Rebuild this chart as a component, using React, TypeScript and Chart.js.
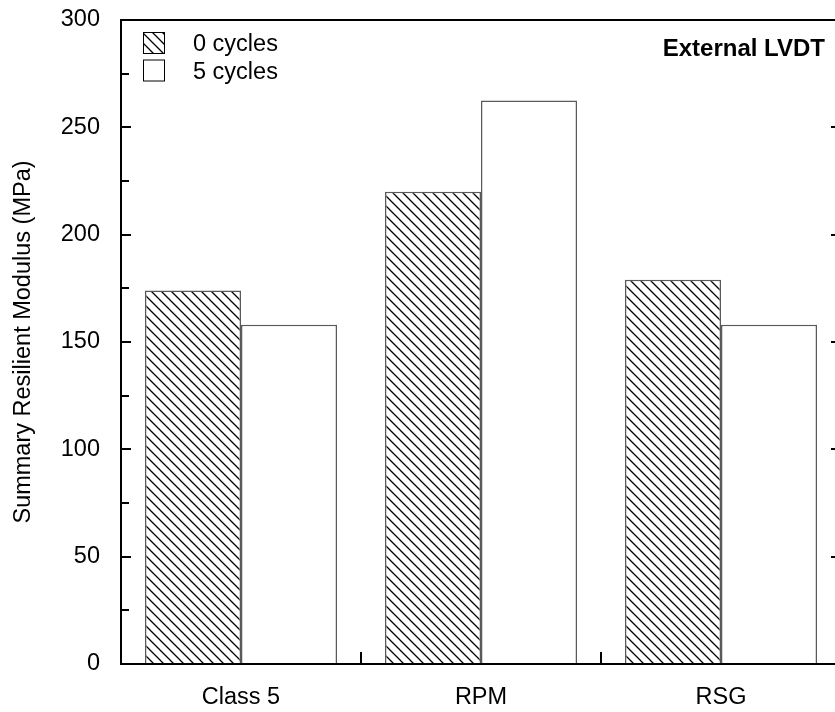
import React, { useEffect, useRef } from "react";
import { Chart, registerables } from "chart.js";

Chart.register(...registerables);

const categories = ["Class 5", "RPM", "RSG"];
const seriesLabels = ["0 cycles", "5 cycles"];
const cycles0 = [174, 220, 179];
const cycles5 = [158, 262.5, 158];
const yMin = 0;
const yMax = 300;
const yMajorStep = 50;
const yMinorStep = 25;
const yTitle = "Summary Resilient Modulus (MPa)";
const annotation = "External LVDT";

const FONT = '"Liberation Sans", Arial, Helvetica, sans-serif';
const FS = 23.5;

function makeHatch(): CanvasPattern | string {
  const c = document.createElement("canvas");
  c.width = 10;
  c.height = 10;
  const g = c.getContext("2d");
  if (!g) return "#fff";
  g.fillStyle = "#fff";
  g.fillRect(0, 0, 10, 10);
  g.strokeStyle = "#000";
  g.lineWidth = 1.3;
  g.beginPath();
  g.moveTo(-2, -2);
  g.lineTo(12, 12);
  g.moveTo(-2, 8);
  g.lineTo(2, 12);
  g.moveTo(8, -2);
  g.lineTo(12, 2);
  g.stroke();
  return g.createPattern(c, "repeat") || "#fff";
}

export default function App() {
  const ref = useRef<HTMLCanvasElement | null>(null);

  useEffect(() => {
    const canvas = ref.current;
    if (!canvas) return;
    const hatch = makeHatch();

    const framePlugin = {
      id: "frame",
      afterDraw(chart: any) {
        const { ctx, chartArea } = chart;
        const { left, right, top, bottom } = chartArea;
        const ys = chart.scales.y;
        const xs = chart.scales.x;
        ctx.save();
        ctx.strokeStyle = "#000";
        ctx.lineWidth = 2;
        ctx.beginPath();
        // frame
        ctx.moveTo(left, top);
        ctx.lineTo(right + 1, top);
        ctx.moveTo(left, top - 1);
        ctx.lineTo(left, bottom + 1);
        ctx.moveTo(left - 1, bottom);
        ctx.lineTo(right + 1, bottom);
        ctx.moveTo(right, top);
        ctx.lineTo(right, bottom);
        ctx.stroke();

        // y ticks (inward)
        ctx.beginPath();
        for (let v = yMin; v <= yMax; v += yMinorStep) {
          const y = Math.round(ys.getPixelForValue(v));
          const major = v % yMajorStep === 0;
          const len = major ? 10 : 8;
          ctx.moveTo(left, y);
          ctx.lineTo(left + len, y);
          if (major) {
            ctx.moveTo(right, y);
            ctx.lineTo(right - 10, y);
          }
        }
        // x ticks between categories
        for (let i = 0; i < categories.length - 1; i++) {
          const x = Math.round((xs.getPixelForValue(i) + xs.getPixelForValue(i + 1)) / 2);
          ctx.moveTo(x, bottom);
          ctx.lineTo(x, bottom - 12);
        }
        ctx.stroke();

        // legend
        const boxX = 143;
        const boxTops = [32, 59.5];
        const baselines = [51, 79];
        const fills = [hatch, "#fff"];
        ctx.font = `${FS}px ${FONT}`;
        ctx.textBaseline = "alphabetic";
        ctx.textAlign = "left";
        for (let i = 0; i < seriesLabels.length; i++) {
          ctx.fillStyle = fills[i] as any;
          ctx.fillRect(boxX, boxTops[i], 21, 21);
          ctx.lineWidth = 1;
          ctx.strokeStyle = "#000";
          ctx.strokeRect(boxX + 0.5, boxTops[i] + 0.5, 21, 21);
          ctx.fillStyle = "#000";
          ctx.fillText(seriesLabels[i], 193, baselines[i]);
        }

        // annotation
        ctx.font = `bold 24px ${FONT}`;
        ctx.textAlign = "right";
        ctx.fillStyle = "#000";
        ctx.fillText(annotation, 825, 56);
        ctx.restore();
      },
    };

    const chart = new Chart(canvas, {
      type: "bar",
      data: {
        labels: categories,
        datasets: [
          {
            label: seriesLabels[0],
            data: cycles0,
            backgroundColor: hatch as any,
            borderColor: "#5a5a5a",
            borderWidth: 1.5,
            categoryPercentage: 0.8,
            barPercentage: 1,
          },
          {
            label: seriesLabels[1],
            data: cycles5,
            backgroundColor: "#ffffff",
            borderColor: "#5a5a5a",
            borderWidth: 1.5,
            categoryPercentage: 0.8,
            barPercentage: 1,
          },
        ],
      },
      options: {
        animation: false,
        responsive: false,
        devicePixelRatio: 1,
        layout: { padding: { top: 20, right: 19, left: 0, bottom: 0 } },
        plugins: {
          legend: { display: false },
          tooltip: { enabled: false },
        },
        scales: {
          x: {
            grid: { display: false, drawTicks: false },
            border: { display: true, color: "#000", width: 2 },
            ticks: {
              color: "#000",
              font: { family: FONT, size: FS },
              padding: 19,
              maxRotation: 0,
            },
            afterFit: (s: any) => {
              s.height = 48;
              s.paddingLeft = 0;
              s.paddingRight = 0;
            },
          },
          y: {
            min: yMin,
            max: yMax,
            grid: { display: false, drawTicks: false },
            border: { display: true, color: "#000", width: 2 },
            ticks: {
              stepSize: yMajorStep,
              color: "#000",
              font: { family: FONT, size: FS },
              padding: 21,
            },
            title: {
              display: true,
              text: yTitle,
              color: "#000",
              font: { family: FONT, size: FS },
              padding: { top: 9, bottom: 0 },
            },
            afterFit: (s: any) => {
              s.width = 121;
              s.paddingTop = 0;
              s.paddingBottom = 0;
            },
          },
        },
      },
      plugins: [framePlugin],
    });

    return () => {
      chart.destroy();
    };
  }, []);

  return (
    <div
      style={{
        position: "fixed",
        left: 0,
        top: 0,
        width: 835,
        height: 712,
        overflow: "hidden",
        background: "#fff",
      }}
    >
      <canvas ref={ref} width={860} height={712} style={{ display: "block" }} />
    </div>
  );
}
